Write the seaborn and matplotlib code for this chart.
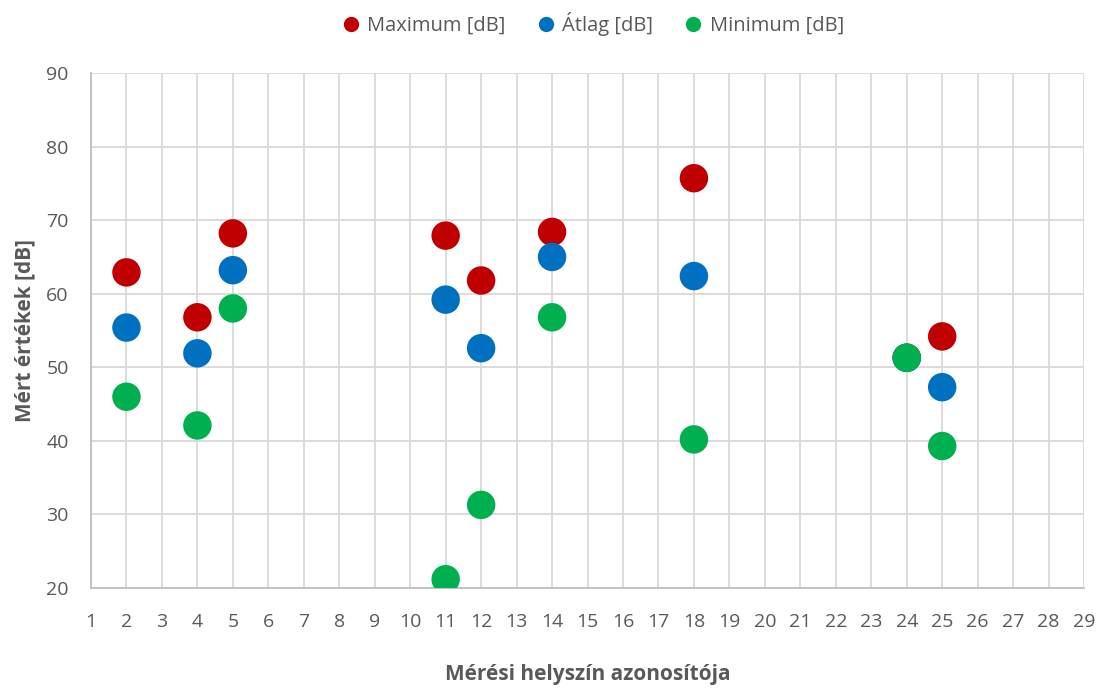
import numpy as np
import pandas as pd
import matplotlib.pyplot as plt
import seaborn as sns

# Mérési helyszínek és mért értékek
helyszin = [2, 4, 5, 11, 12, 14, 18, 24, 25]
maximum = [62.9, 56.8, 68.2, 67.9, 61.8, 68.4, 75.7, 51.3, 54.2]
atlag = [55.4, 51.9, 63.2, 59.2, 52.6, 65.0, 62.4, 51.3, 47.3]
minimum = [46.0, 42.1, 58.0, 21.2, 31.3, 56.8, 40.2, 51.3, 39.3]

sorozatok = ['Maximum [dB]', 'Átlag [dB]', 'Minimum [dB]']
szinek = ['#c00000', '#0070c0', '#00b050']

df = pd.DataFrame({
    'x': helyszin * 3,
    'y': maximum + atlag + minimum,
    'sorozat': [sorozatok[0]] * len(helyszin) + [sorozatok[1]] * len(helyszin) + [sorozatok[2]] * len(helyszin),
})

sns.set_style('white')
plt.rcParams['font.family'] = ['Open Sans', 'DejaVu Sans']

fig = plt.figure(figsize=(10.99, 6.88), dpi=100)
ax = fig.add_axes([0.0828, 0.1453, 0.9036, 0.7486])

sns.scatterplot(data=df, x='x', y='y', hue='sorozat', palette=szinek,
                hue_order=sorozatok, s=420, linewidth=0, ax=ax, zorder=3)

ax.set_xlim(1, 29)
ax.set_ylim(20, 90)
ax.set_xticks(range(1, 30))
ax.set_yticks(range(20, 91, 10))
ax.grid(True, color='#d9d9d9', linewidth=1.3, zorder=0)
ax.set_axisbelow(True)
for side in ['top', 'right']:
    ax.spines[side].set_visible(False)
for side in ['left', 'bottom']:
    ax.spines[side].set_color('#bfbfbf')
    ax.spines[side].set_linewidth(1.3)

ax.tick_params(axis='both', length=0, labelsize=14, colors='#595959')
ax.tick_params(axis='x', pad=18)
ax.tick_params(axis='y', pad=16)
ax.set_xlabel('Mérési helyszín azonosítója', fontsize=15, fontweight='bold',
              color='#595959', labelpad=24)
ax.set_ylabel('Mért értékek [dB]', fontsize=15, fontweight='bold',
              color='#595959', labelpad=8)

handles, labels = ax.get_legend_handles_labels()
for h in handles:
    h.set_markersize(11)
ax.legend(handles, labels, loc='center', bbox_to_anchor=(0.5, 1.095), ncol=3,
          frameon=False, fontsize=14.5, labelcolor='#595959', handletextpad=-0.2,
          columnspacing=1.0, borderaxespad=0)

fig.savefig('out.png', dpi=100)
